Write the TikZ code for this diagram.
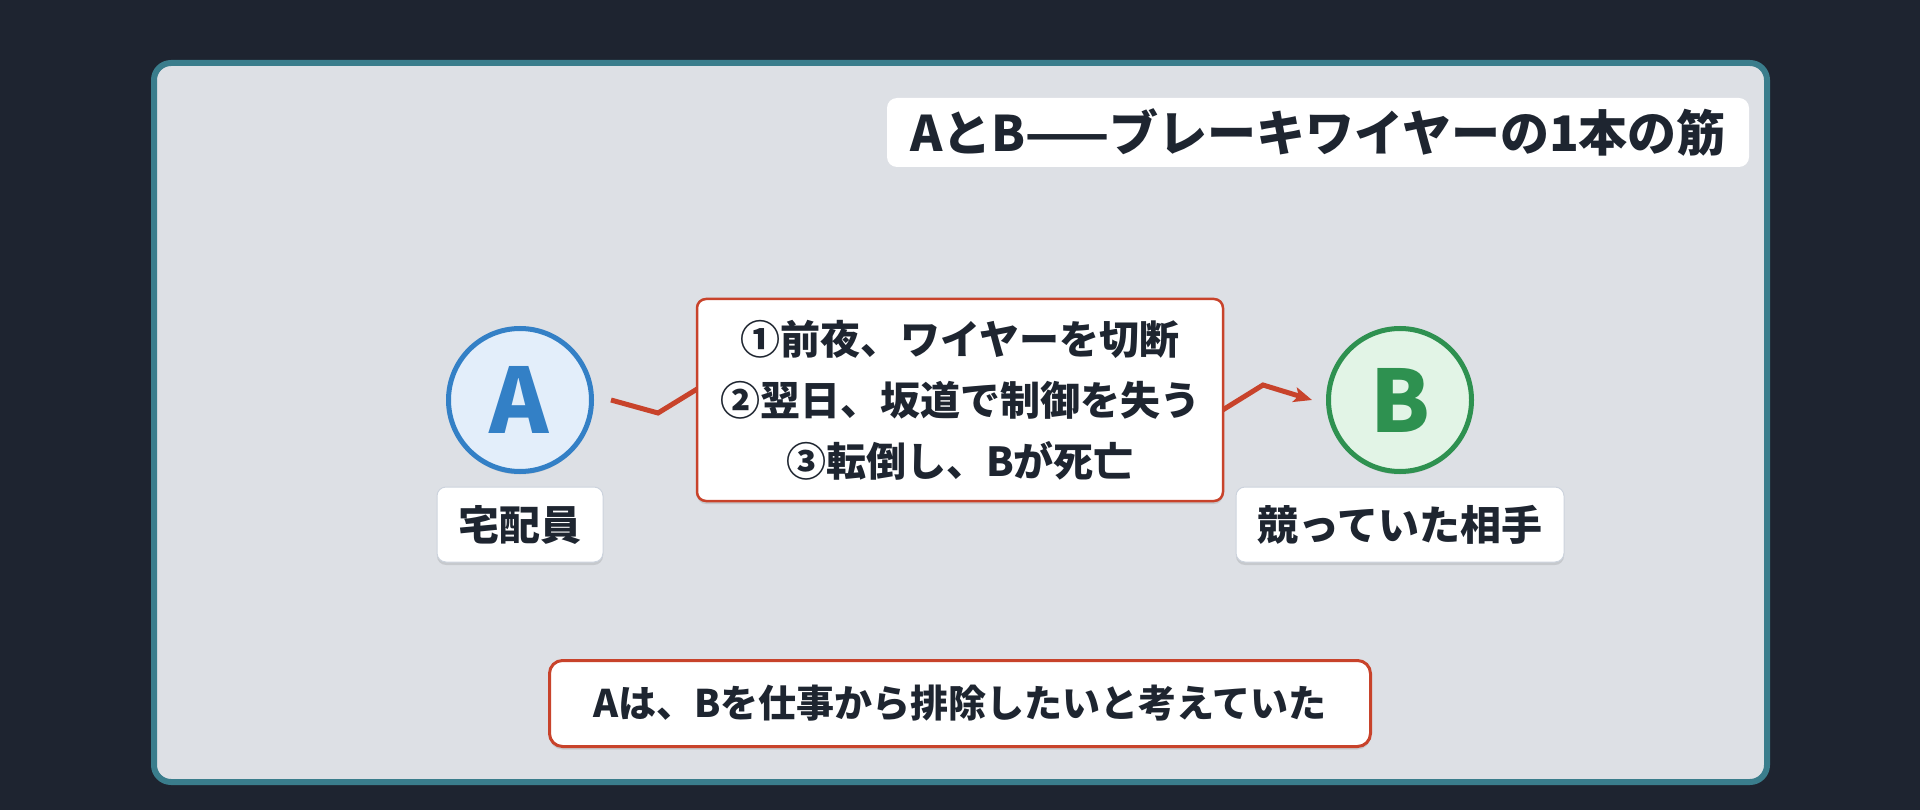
\documentclass[tikz,border=0pt]{standalone}
\usepackage{fontspec}
\setmainfont{Noto Sans CJK JP}
\usetikzlibrary{arrows.meta,shadows}
\definecolor{bgdark}{HTML}{1E2430}
\definecolor{frameC}{HTML}{3A7D8C}
\definecolor{innerC}{HTML}{DDE0E5}
\definecolor{inkC}{HTML}{1E2530}
\definecolor{redC}{HTML}{C8432B}
\definecolor{blueS}{HTML}{3380C6}
\definecolor{blueF}{HTML}{E3EEFA}
\definecolor{greenS}{HTML}{2E9150}
\definecolor{greenF}{HTML}{E2F4E6}
\definecolor{labelEdge}{HTML}{CCD3DD}
\tikzset{
  softshadow/.style={drop shadow={opacity=0.10,shadow xshift=0pt,shadow yshift=-3pt,fill=black}},
  personA/.style={circle,draw=blueS,fill=blueF,line width=5pt,minimum size=143pt,inner sep=0pt,
    text=blueS,font=\fontsize{90}{94}\selectfont,softshadow},
  personB/.style={circle,draw=greenS,fill=greenF,line width=5pt,minimum size=143pt,inner sep=0pt,
    text=greenS,font=\bfseries\fontsize{86}{90}\selectfont,softshadow},
  namebox/.style={rectangle,rounded corners=9pt,draw=labelEdge,line width=1pt,fill=white,text=inkC,
    font=\bfseries\fontsize{41}{46}\selectfont,inner sep=0pt,minimum height=75pt,softshadow},
  titlebox/.style={rectangle,rounded corners=10pt,fill=white,text=inkC,
    font=\bfseries\fontsize{49}{54}\selectfont,inner sep=0pt,minimum width=862pt,minimum height=69pt},
  stepsbox/.style={rectangle,rounded corners=9pt,draw=redC,line width=2.5pt,fill=white,text=inkC,
    font=\bfseries\fontsize{40}{61}\selectfont,align=center,inner sep=0pt,
    minimum width=526pt,minimum height=202pt,softshadow},
  motivebox/.style={rectangle,rounded corners=13pt,draw=redC,line width=3pt,fill=white,text=inkC,
    font=\bfseries\fontsize{38}{42}\selectfont,inner sep=0pt,
    minimum width=821pt,minimum height=86pt,softshadow},
  wire/.style={draw=redC,line width=5pt,line join=miter,-{Stealth[length=18pt,width=15pt,inset=4pt]}}
}
\begin{document}
\begin{tikzpicture}[x=1pt,y=-1pt]
\useasboundingbox (0,0) rectangle (1920,810);
\fill[bgdark] (0,0) rectangle (1920,810);
\draw[frameC,fill=innerC,line width=6pt,rounded corners=17pt] (154,63) rectangle (1767,782);

\node[titlebox] (title) at (1318,132.5) {AとB——ブレーキワイヤーの1本の筋};

\node[personA] (A) at (520,400) {\textbf{A}};
\node[personB] (B) at (1400,400) {B};

\node[namebox,minimum width=166pt] (Alabel) at (520,524.5) {宅配員};
\node[namebox,minimum width=328pt] (Blabel) at (1400,524.5) {競っていた相手};

\coordinate (wstart) at ([xshift=17pt]A.east);
\coordinate (wend) at ([xshift=-14pt]B.west);
\draw[wire] (wstart) -- (658,413) -- (720,375) -- (1200,424) -- (1263,385) -- (wend);

\node[stepsbox] (steps) at (960,400) {①前夜、ワイヤーを切断\\②翌日、坂道で制御を失う\\③転倒し、Bが死亡};

\node[motivebox] (motive) at (960,703.5) {Aは、Bを仕事から排除したいと考えていた};
\end{tikzpicture}
\end{document}
